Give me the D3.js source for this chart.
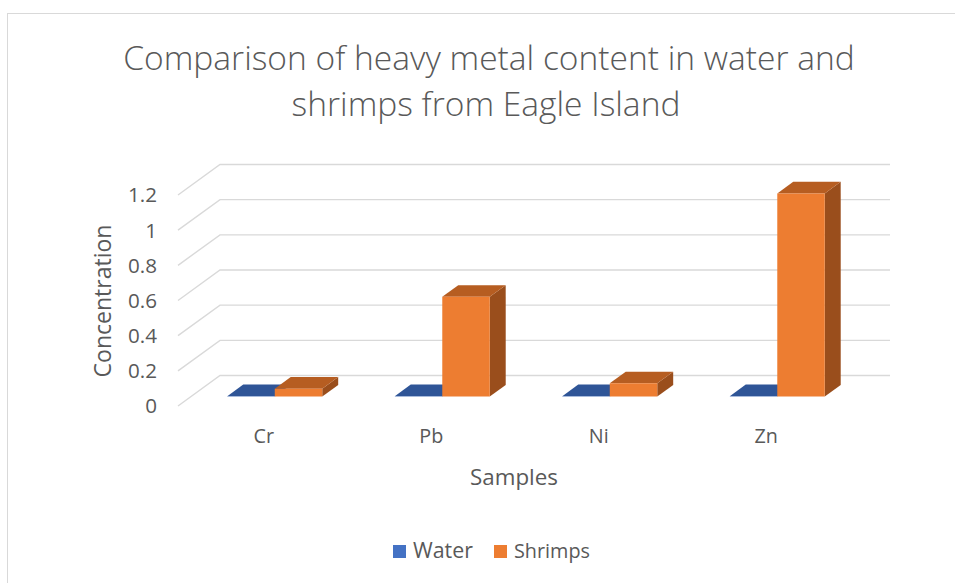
<!DOCTYPE html>
<html>
<head>
<meta charset="utf-8">
<script src="https://cdn.jsdelivr.net/npm/d3@7"></script>
<style>
  html, body { margin: 0; padding: 0; background: #fff; }
  svg { display: block; }
  text { font-family: "Open Sans", "Noto Sans", sans-serif; fill: #595959; }
</style>
</head>
<body>
<svg id="chart" width="955" height="583"></svg>
<script>
// Heavy metal concentrations per sample
const categories = ["Cr", "Pb", "Ni", "Zn"];
const seriesNames = ["Water", "Shrimps"];
const waterValues = [0.002, 0.002, 0.002, 0.002];
const shrimpValues = [0.045, 0.567, 0.075, 1.155];
const yTicks = [0, 0.2, 0.4, 0.6, 0.8, 1, 1.2];
const titleLines = ["Comparison of heavy metal content in water and", "shrimps from Eagle Island"];

const colors = {
  Water:   { front: "#4472C4", top: "#2F5597", side: "#264478" },
  Shrimps: { front: "#ED7D31", top: "#B65D21", side: "#9A4E1C" }
};

const svg = d3.select("#chart");

// chart frame (extends past the right/bottom edges)
svg.append("rect")
  .attr("x", 7.5).attr("y", 13.5)
  .attr("width", 980).attr("height", 600)
  .attr("fill", "#fff").attr("stroke", "#d9d9d9").attr("stroke-width", 1);

// oblique 3D projection: depth vector for z = 1
const DX = 42, DY = 30.5;
const y = d3.scaleLinear().domain([0, 1.2]).range([406, 195]);
const x0 = d3.scaleBand().domain(categories).range([178, 848])
  .paddingInner(0.433).paddingOuter(0.2165);
const x1 = d3.scaleBand().domain(seriesNames).range([0, x0.bandwidth()]);
const Z0 = 0.31, Z1 = 0.69;

const P = (xf, v, z) => [xf + z * DX, y(v) - z * DY];
const poly = pts => pts.map(p => p.join(",")).join(" ");

// gridlines: left-wall diagonals and back-wall horizontals
const grid = svg.append("g").attr("stroke", "#d9d9d9").attr("stroke-width", 1.4).attr("fill", "none");
yTicks.forEach(t => {
  const a = P(178, t, 0), b = P(178, t, 1), c = P(848, t, 1);
  grid.append("polyline").attr("points", poly([a, b, c]));
});

// scale a text's font size so it spans the given width
function fitFont(sel, base, targetWidth) {
  sel.attr("font-size", base);
  const w = sel.node().getComputedTextLength();
  sel.attr("font-size", base * targetWidth / w);
  return base * targetWidth / w;
}

// y tick labels
const tickG = svg.append("g");
const probe = tickG.append("text").text("0.8").attr("font-size", 20);
const tickSize = fitFont(probe, 20, 29);
probe.remove();
tickG.selectAll("text").data(yTicks).join("text")
  .attr("x", 157).attr("y", d => y(d))
  .attr("dy", "0.36em")
  .attr("text-anchor", "end")
  .attr("font-size", tickSize)
  .text(d => d3.format("~g")(d));

// bars
const rows = categories.map((c, i) => ({ cat: c, vals: [waterValues[i], shrimpValues[i]] }));
const barG = svg.append("g");
rows.forEach(r => {
  seriesNames.forEach((s, j) => {
    const v = r.vals[j];
    const xl = x0(r.cat) + x1(s), xr = xl + x1.bandwidth();
    const col = colors[s];
    const g = barG.append("g");
    g.append("polygon").attr("fill", col.side)
      .attr("points", poly([P(xr, 0, Z0), P(xr, v, Z0), P(xr, v, Z1), P(xr, 0, Z1)]));
    g.append("polygon").attr("fill", col.top)
      .attr("points", poly([P(xl, v, Z0), P(xr, v, Z0), P(xr, v, Z1), P(xl, v, Z1)]));
    g.append("polygon").attr("fill", col.front)
      .attr("points", poly([P(xl, 0, Z0), P(xr, 0, Z0), P(xr, v, Z0), P(xl, v, Z0)]));
  });
});

// category labels
const catProbe = svg.append("text").text("Pb").attr("font-size", 20);
const catSize = fitFont(catProbe, 20, 24);
catProbe.remove();
svg.append("g").selectAll("text").data(categories).join("text")
  .attr("x", d => x0(d) + x0.bandwidth() / 2 + 2)
  .attr("y", 443)
  .attr("text-anchor", "middle")
  .attr("font-size", catSize)
  .text(d => d);

// axis titles
const xt = svg.append("text").attr("x", 514).attr("y", 485)
  .attr("text-anchor", "middle").text("Samples");
fitFont(xt, 20, 88);

const yt = svg.append("text")
  .attr("transform", "translate(111,301) rotate(-90)")
  .attr("text-anchor", "middle").text("Concentration");
fitFont(yt, 20, 153);

// title
const t1 = svg.append("text").attr("x", 489).attr("y", 70)
  .attr("text-anchor", "middle").attr("font-weight", 300).text(titleLines[0]);
const titleSize = fitFont(t1, 30, 732);
svg.append("text").attr("x", 486).attr("y", 116)
  .attr("text-anchor", "middle").attr("font-weight", 300)
  .attr("font-size", titleSize).text(titleLines[1]);

// legend
const legend = svg.append("g");
const legendX = [393, 494];
seriesNames.forEach((s, i) => {
  legend.append("rect").attr("x", legendX[i]).attr("y", 545)
    .attr("width", 13).attr("height", 13).attr("fill", colors[s].front);
  const lt = legend.append("text").attr("x", legendX[i] + 20).attr("y", 558).text(s);
  fitFont(lt, 18, i === 0 ? 60 : 76);
});
</script>
</body>
</html>
